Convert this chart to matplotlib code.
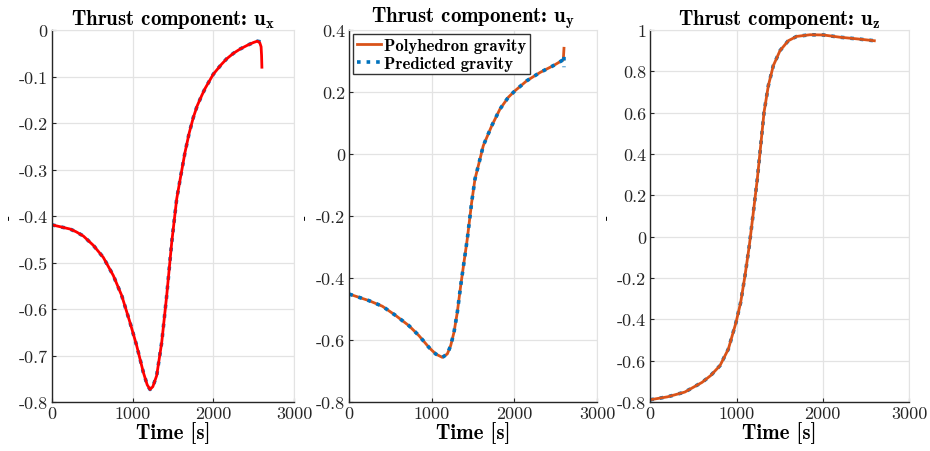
import numpy as np
import matplotlib
matplotlib.use("Agg")
import matplotlib.pyplot as plt

plt.rcParams["font.family"] = "cmr10"
plt.rcParams["mathtext.fontset"] = "cm"
plt.rcParams["axes.unicode_minus"] = False

# u_x component
tx_poly = [0, 223, 300, 388, 512, 636, 760, 864, 967, 1050, 1132, 1180, 1215, 1250, 1298, 1360,
           1422, 1484, 1546, 1600, 1649, 1700, 1752, 1800, 1856, 1900, 2000, 2100, 2165, 2250,
           2331, 2420, 2496, 2545, 2575, 2592, 2598, 2602]
ux_poly = [-0.419, -0.428, -0.434, -0.443, -0.463, -0.489, -0.528, -0.571, -0.629, -0.679, -0.736,
           -0.763, -0.773, -0.767, -0.743, -0.672, -0.571, -0.457, -0.363, -0.310, -0.263, -0.222,
           -0.188, -0.163, -0.141, -0.125, -0.095, -0.074, -0.062, -0.050, -0.041, -0.033, -0.027,
           -0.024, -0.027, -0.036, -0.055, -0.080]
tx_pred = tx_poly[:-4] + [2600]
ux_pred = ux_poly[:-4] + [-0.026]

# u_y component
ty = [0, 238, 400, 562, 723, 844, 965, 1046, 1127, 1187, 1228, 1268, 1308, 1349, 1389, 1429,
      1482, 1522, 1583, 1623, 1725, 1825, 1926, 2007, 2148, 2310, 2471, 2592]
uy_base = [-0.452, -0.473, -0.491, -0.521, -0.554, -0.586, -0.624, -0.645, -0.656, -0.645, -0.618,
           -0.575, -0.511, -0.425, -0.349, -0.274, -0.156, -0.081, -0.016, 0.027, 0.091, 0.145,
           0.183, 0.204, 0.236, 0.263, 0.285, 0.304]
uy_poly_end = [0.341]
uy_pred_end = [0.317, 0.280]

# u_z component
tz = [0, 200, 400, 600, 700, 808, 905, 994, 1048, 1098, 1148, 1195, 1241, 1280, 1319, 1369,
      1426, 1504, 1600, 1698, 1852, 2006, 2200, 2400, 2598]
uz_vals = [-0.789, -0.775, -0.752, -0.705, -0.672, -0.624, -0.544, -0.415, -0.318, -0.189, -0.044,
           0.118, 0.279, 0.440, 0.602, 0.731, 0.827, 0.900, 0.948, 0.969, 0.977, 0.976, 0.965,
           0.957, 0.948]

xticks = [0, 1000, 2000, 3000]
yticks_x = [0, -0.1, -0.2, -0.3, -0.4, -0.5, -0.6, -0.7, -0.8]
yticks_y = [0.4, 0.2, 0, -0.2, -0.4, -0.6, -0.8]
yticks_z = [1, 0.8, 0.6, 0.4, 0.2, 0, -0.2, -0.4, -0.6, -0.8]

BLUE = "#0072BD"
ORANGE = "#D95319"


def fmt(v):
    return f"{v:g}"


fig = plt.figure(figsize=(9.3, 4.52), dpi=100)
positions = [
    [52 / 930, 49 / 452, 242 / 930, 372 / 452],
    [349.3 / 930, 49 / 452, 247.7 / 930, 372 / 452],
    [650.3 / 930, 49 / 452, 258.7 / 930, 372 / 452],
]
axes = [fig.add_axes(p) for p in positions]

ax = axes[0]
ax.plot(tx_pred, ux_pred, ":", color=BLUE, lw=2.6)
ax.plot(tx_poly, ux_poly, "-", color="#FF0000", lw=2.0)

ax = axes[1]
l1, = ax.plot(ty + [2600], uy_base + uy_poly_end, "-", color=ORANGE, lw=2.0)
l2, = ax.plot(ty + [2600, 2600], uy_base + uy_pred_end, ":", color=BLUE, lw=2.6)
leg = ax.legend([l1, l2], ["Polyhedron gravity", "Predicted gravity"], loc="upper left",
                prop={"family": "cmb10", "size": 12}, fancybox=False, framealpha=1,
                edgecolor="#333333", borderpad=0.2, handlelength=1.45, handletextpad=0.2,
                labelspacing=0.2, borderaxespad=0.25)
leg.get_frame().set_linewidth(1.0)

ax = axes[2]
ax.plot(tz, uz_vals, ":", color=BLUE, lw=2.6)
ax.plot(tz, uz_vals, "-", color=ORANGE, lw=2.0)

comps = ["x", "y", "z"]
ylims = [(-0.8, 0), (-0.8, 0.4), (-0.8, 1)]
yts = [yticks_x, yticks_y, yticks_z]
for ax, c, yl, yt in zip(axes, comps, ylims, yts):
    ax.set_xlim(0, 3000)
    ax.set_ylim(*yl)
    ax.set_xticks(xticks)
    ax.set_xticklabels([fmt(v) for v in xticks])
    ax.set_yticks(yt)
    ax.set_yticklabels([fmt(v) for v in yt])
    ax.tick_params(direction="in", length=3, labelsize=13, color="#262626", labelcolor="#262626",
                   pad=3)
    ax.grid(True, color="#E3E3E3", lw=0.9)
    ax.set_axisbelow(True)
    for s in ["top", "right"]:
        ax.spines[s].set_color("#E3E3E3")
    for s in ["left", "bottom"]:
        ax.spines[s].set_color("#262626")
        ax.spines[s].set_linewidth(1.0)
    ax.set_title(r"Thrust component: $\mathbf{u_" + c + "}$", fontfamily="cmb10", fontsize=15, pad=4)
    ax.set_xlabel("Time [s]", fontfamily="cmb10", fontsize=15, labelpad=0)
    ax.set_ylabel("-", fontsize=11)

axes[0].yaxis.set_label_coords(-0.15, 0.5)
axes[1].yaxis.set_label_coords(-0.15, 0.5)
axes[2].yaxis.set_label_coords(-0.14, 0.5)

fig.savefig("out.png", dpi=100)
